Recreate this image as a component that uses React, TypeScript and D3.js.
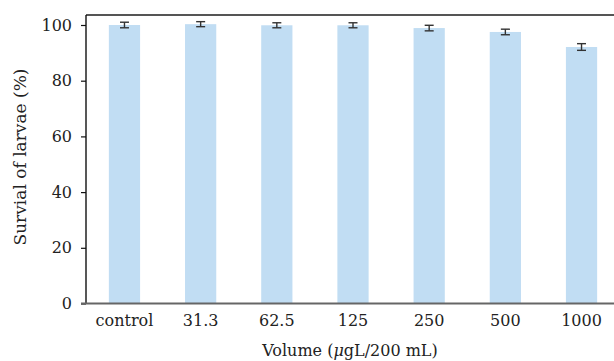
import { useEffect, useRef } from "react";
import * as d3 from "d3";

const categories = ["control", "31.3", "62.5", "125", "250", "500", "1000"];
const survival = [100, 100.3, 99.9, 99.9, 98.9, 97.5, 92.1];
const errors = [1, 0.9, 0.9, 0.9, 1, 1, 1.2];
const yTicks = [0, 20, 40, 60, 80, 100];

const App = () => {
  const svgRef = useRef<SVGSVGElement>(null);

  useEffect(() => {
    document.body.style.margin = "0";
    document.body.style.overflow = "hidden";

    const width = 614;
    const left = 86;
    const top = 15;
    const bottom = 303.5;
    const font = "'DejaVu Serif', serif";

    const svg = d3.select(svgRef.current);
    svg.selectAll("*").remove();

    const x = d3.scaleBand<string>().domain(categories).range([left, 620]).paddingInner(0.59).paddingOuter(0.3);
    const y = d3.scaleLinear().domain([0, 100]).range([bottom, 25]);

    // bars
    svg.append("g")
      .selectAll("rect")
      .data(survival)
      .join("rect")
      .attr("x", (_, i) => x(categories[i])!)
      .attr("width", x.bandwidth())
      .attr("y", (d) => y(d))
      .attr("height", (d) => bottom - y(d))
      .attr("fill", "#c1ddf3");

    // error bars
    const eg = svg.append("g").attr("stroke", "#333").attr("stroke-width", 1.4);
    survival.forEach((v, i) => {
      const cx = x(categories[i])! + x.bandwidth() / 2;
      const hi = y(v + errors[i]);
      const lo = y(v - errors[i]);
      eg.append("line").attr("x1", cx).attr("x2", cx).attr("y1", hi).attr("y2", lo);
      eg.append("line").attr("x1", cx - 4.5).attr("x2", cx + 4.5).attr("y1", hi).attr("y2", hi);
      eg.append("line").attr("x1", cx - 4.5).attr("x2", cx + 4.5).attr("y1", lo).attr("y2", lo);
    });

    // y axis
    const yAxis = svg.append("g")
      .attr("transform", `translate(${left},0)`)
      .call(d3.axisLeft(y).tickValues(yTicks).tickSize(5).tickPadding(9));
    yAxis.select(".domain").remove();
    yAxis.selectAll("line").attr("stroke", "#111").attr("stroke-width", 1.2);
    yAxis.selectAll("text")
      .attr("font-family", font).attr("font-size", 16).attr("fill", "#222");

    // x axis labels
    const xAxis = svg.append("g")
      .attr("transform", `translate(0,${bottom})`)
      .call(d3.axisBottom(x).tickSize(0).tickPadding(11));
    xAxis.select(".domain").remove();
    xAxis.selectAll("line").remove();
    xAxis.selectAll("text")
      .attr("font-family", font).attr("font-size", 16).attr("fill", "#222");

    // frame: top grey, left dark, bottom grey
    svg.append("line")
      .attr("x1", left).attr("x2", width).attr("y1", top).attr("y2", top)
      .attr("stroke", "#555").attr("stroke-width", 1.8);
    svg.append("line")
      .attr("x1", left).attr("x2", left).attr("y1", top).attr("y2", bottom)
      .attr("stroke", "#111").attr("stroke-width", 1.4);
    svg.append("line")
      .attr("x1", 81).attr("x2", width).attr("y1", bottom).attr("y2", bottom)
      .attr("stroke", "#666").attr("stroke-width", 2);

    // axis titles
    const xt = svg.append("text")
      .attr("x", 350).attr("y", 356)
      .attr("text-anchor", "middle")
      .attr("font-family", font).attr("font-size", 16).attr("fill", "#222");
    xt.append("tspan").text("Volume (");
    xt.append("tspan").attr("font-style", "italic").text("μ");
    xt.append("tspan").text("gL/200 mL)");

    svg.append("text")
      .attr("transform", `translate(26,157) rotate(-90)`)
      .attr("text-anchor", "middle")
      .attr("font-family", font).attr("font-size", 17).attr("fill", "#222")
      .text("Survial of larvae (%)");
  }, []);

  return (
    <svg
      ref={svgRef}
      width={614}
      height={361}
      style={{ display: "block", background: "#fff" }}
    />
  );
};

export default App;
